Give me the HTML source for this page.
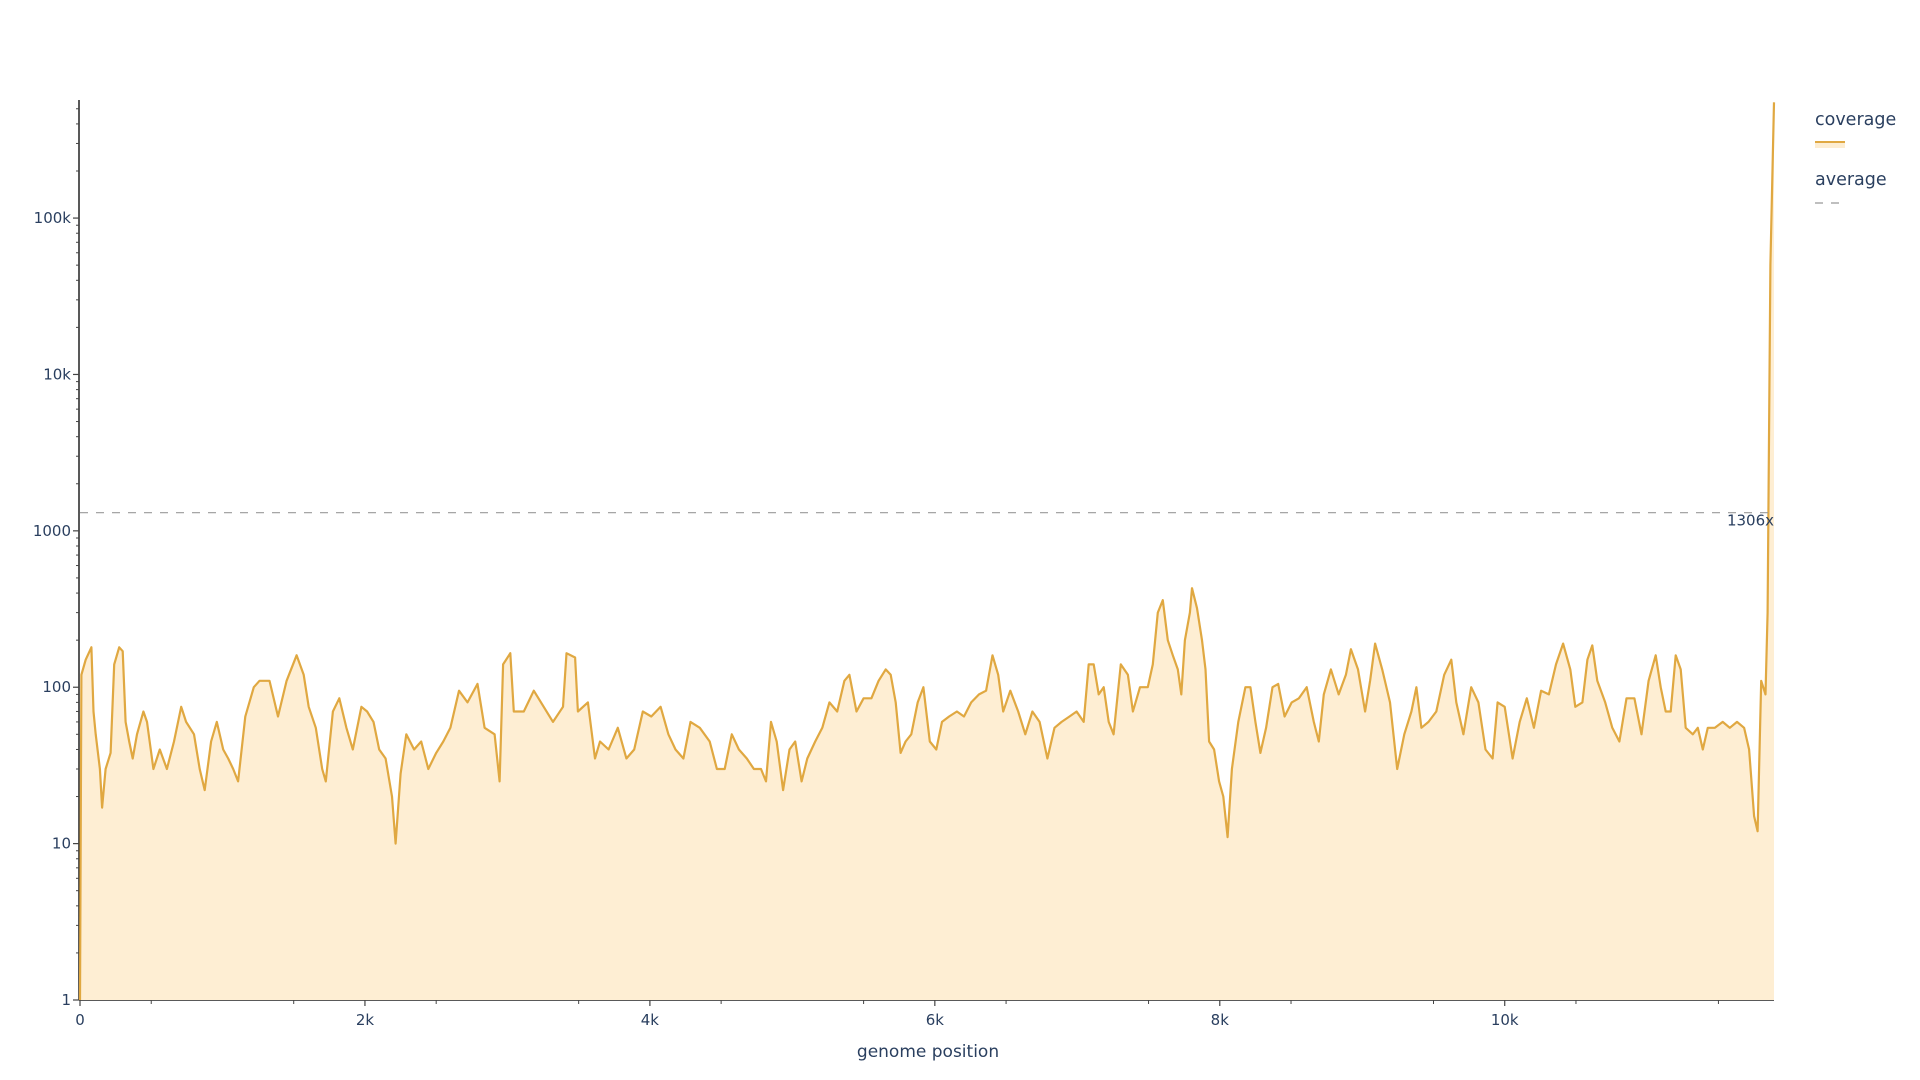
<!DOCTYPE html>
<html><head><meta charset="utf-8">
<style>
html,body{margin:0;padding:0;background:#fff;}
svg{display:block;font-family:"DejaVu Sans","Liberation Sans",sans-serif;}
</style></head>
<body>
<svg id="chart" width="1920" height="1080" xmlns="http://www.w3.org/2000/svg">
<g id="grid"></g>
<g id="series"></g>
<g id="ann"></g>
<text x="928" y="1057" font-size="17" fill="#2a3f5f" text-anchor="middle">genome position</text>
<g>
<text x="1815" y="125" font-size="17.5" fill="#2a3f5f">coverage</text>
<rect x="1815" y="142" width="30" height="6" fill="#fdedd1"></rect>
<line x1="1815" y1="142" x2="1845" y2="142" stroke="#e0a841" stroke-width="2"></line>
<text x="1815" y="185" font-size="17.5" fill="#2a3f5f">average</text>
<line x1="1815" y1="203" x2="1845" y2="203" stroke="#999" stroke-width="1.2" stroke-dasharray="8,8"></line>
</g>
</svg>
<script>
const positions = [0,10,40,80,95,110,140,155,180,215,240,275,300,320,345,370,400,445,470,515,560,610,660,710,745,800,840,875,920,960,1005,1040,1075,1110,1160,1220,1260,1330,1390,1450,1520,1570,1605,1655,1700,1725,1775,1820,1870,1915,1975,2015,2060,2100,2145,2190,2215,2250,2290,2345,2395,2445,2500,2550,2600,2660,2720,2790,2840,2910,2945,2970,3020,3045,3115,3185,3255,3320,3390,3415,3475,3495,3565,3615,3650,3710,3775,3835,3890,3950,4010,4075,4130,4180,4235,4285,4350,4420,4470,4525,4575,4625,4680,4730,4780,4815,4850,4890,4935,4980,5020,5065,5105,5160,5210,5260,5315,5365,5400,5450,5500,5555,5605,5655,5690,5725,5760,5795,5835,5880,5920,5965,6010,6050,6100,6155,6205,6255,6310,6360,6405,6445,6480,6530,6585,6635,6685,6735,6790,6840,6890,6945,6995,7045,7080,7115,7150,7185,7220,7255,7305,7355,7390,7440,7495,7530,7565,7600,7635,7670,7705,7730,7755,7790,7805,7840,7875,7900,7925,7960,7995,8025,8055,8085,8130,8180,8215,8250,8285,8325,8370,8410,8455,8505,8555,8610,8660,8695,8730,8780,8835,8885,8920,8970,9020,9055,9090,9140,9195,9245,9295,9345,9380,9415,9465,9520,9575,9625,9660,9710,9765,9815,9865,9915,9950,10000,10055,10105,10155,10205,10255,10310,10360,10410,10460,10495,10545,10580,10615,10650,10705,10755,10805,10855,10910,10960,11010,11060,11095,11130,11165,11200,11235,11270,11320,11355,11390,11425,11475,11530,11580,11630,11680,11715,11750,11775,11800,11830,11845,11865,11890];
const coverage = [1,120,150,180,70,50,30,17,30,38,140,180,170,60,45,35,50,70,60,30,40,30,45,75,60,50,30,22,45,60,40,35,30,25,65,100,110,110,65,110,160,120,75,55,30,25,70,85,55,40,75,70,60,40,35,20,10,28,50,40,45,30,38,45,55,95,80,105,55,50,25,140,165,70,70,95,75,60,75,165,155,70,80,35,45,40,55,35,40,70,65,75,50,40,35,60,55,45,30,30,50,40,35,30,30,25,60,45,22,40,45,25,35,45,55,80,70,110,120,70,85,85,110,130,120,80,38,45,50,80,100,45,40,60,65,70,65,80,90,95,160,120,70,95,70,50,70,60,35,55,60,65,70,60,140,140,90,100,60,50,140,120,70,100,100,140,300,360,200,160,130,90,200,300,430,320,200,130,45,40,25,20,11,30,60,100,100,60,38,55,100,105,65,80,85,100,60,45,90,130,90,120,175,130,70,110,190,130,80,30,50,70,100,55,60,70,120,150,80,50,100,80,40,35,80,75,35,60,85,55,95,90,140,190,130,75,80,150,185,110,80,55,45,85,85,50,110,160,100,70,70,160,130,55,50,55,40,55,55,60,55,60,55,40,15,12,110,90,300,50000,550000];
const averageValue = [1306];
const xTicks = [0,2000,4000,6000,8000,10000];
const xTickLabels = ["0","2k","4k","6k","8k","10k"];
const yTicks = [1,10,100,1000,10000,100000];
const yTickLabels = ["1","10","100","1000","10k","100k"];

const NS="http://www.w3.org/2000/svg";
const L=80,R=1774,T=100,B=1000;
const XMAX=11890, YMAXLOG=5.755;
const xs=v=>L+(v/XMAX)*(R-L);
const ys=v=>B-(Math.log10(Math.max(v,1))/YMAXLOG)*(B-T);
function mk(tag,attrs,parent){const e=document.createElementNS(NS,tag);for(const k in attrs)e.setAttribute(k,attrs[k]);parent.appendChild(e);return e;}
const grid=document.getElementById('grid');
const series=document.getElementById('series');
const ann=document.getElementById('ann');

let d="M"+xs(positions[0])+","+B;
let ld="";
positions.forEach((p,i)=>{const x=xs(p),y=ys(coverage[i]);d+=" L"+x.toFixed(1)+","+y.toFixed(1);ld+=(i?" L":"M")+x.toFixed(1)+","+y.toFixed(1);});
d+=" L"+xs(positions[positions.length-1])+","+B+" Z";
const fill=mk('path',{d:d,fill:'#feeed3',stroke:'none'},series);


const line=mk('path',{d:ld,fill:'none',stroke:'#e0a841','stroke-width':2.2,'stroke-linejoin':'round'},series);



const ay=ys(averageValue[0]);
const avg=mk('line',{x1:L,x2:R,y1:ay,y2:ay,stroke:'#999','stroke-width':1.2,'stroke-dasharray':'8,8'},ann);


const avgT=mk('text',{x:R,y:ay+13,'font-size':15,fill:'#2a3f5f','text-anchor':'end'},ann);
avgT.textContent=averageValue[0]+"x";



const xa=mk('line',{x1:L-1,x2:R,y1:B,y2:B,stroke:'#222','stroke-width':1.5},grid);


const ya=mk('line',{x1:L-1,x2:L-1,y1:T,y2:B,stroke:'#222','stroke-width':1.5},grid);



xTicks.forEach((t,i)=>{
  const x=xs(t);
  const tk=mk('line',{x1:x,x2:x,y1:B,y2:B+6,stroke:'#444','stroke-width':1.2},grid);
  
  
  const lb=mk('text',{x:x,y:B+25,'font-size':15,fill:'#2a3f5f','text-anchor':'middle'},grid);
  lb.textContent=xTickLabels[i];
  
  
});
for(let t=500;t<XMAX;t+=1000){
  const x=xs(t);
  const tk=mk('line',{x1:x,x2:x,y1:B,y2:B+4,stroke:'#444','stroke-width':1},grid);
  
  
}
yTicks.forEach((t,i)=>{
  const y=ys(t);
  const tk=mk('line',{x1:L-7,x2:L-1,y1:y,y2:y,stroke:'#444','stroke-width':1.2},grid);
  
  
  const lb=mk('text',{x:L-9,y:y+5,'font-size':15,fill:'#2a3f5f','text-anchor':'end'},grid);
  lb.textContent=yTickLabels[i];
  
  
});
for(let e=0;e<6;e++){for(let m=2;m<=9;m++){const v=m*Math.pow(10,e);if(Math.log10(v)>YMAXLOG)continue;const y=ys(v);
  const tk=mk('line',{x1:L-4,x2:L-1,y1:y,y2:y,stroke:'#444','stroke-width':1},grid);
  
  
}}
</script>
</body></html>
